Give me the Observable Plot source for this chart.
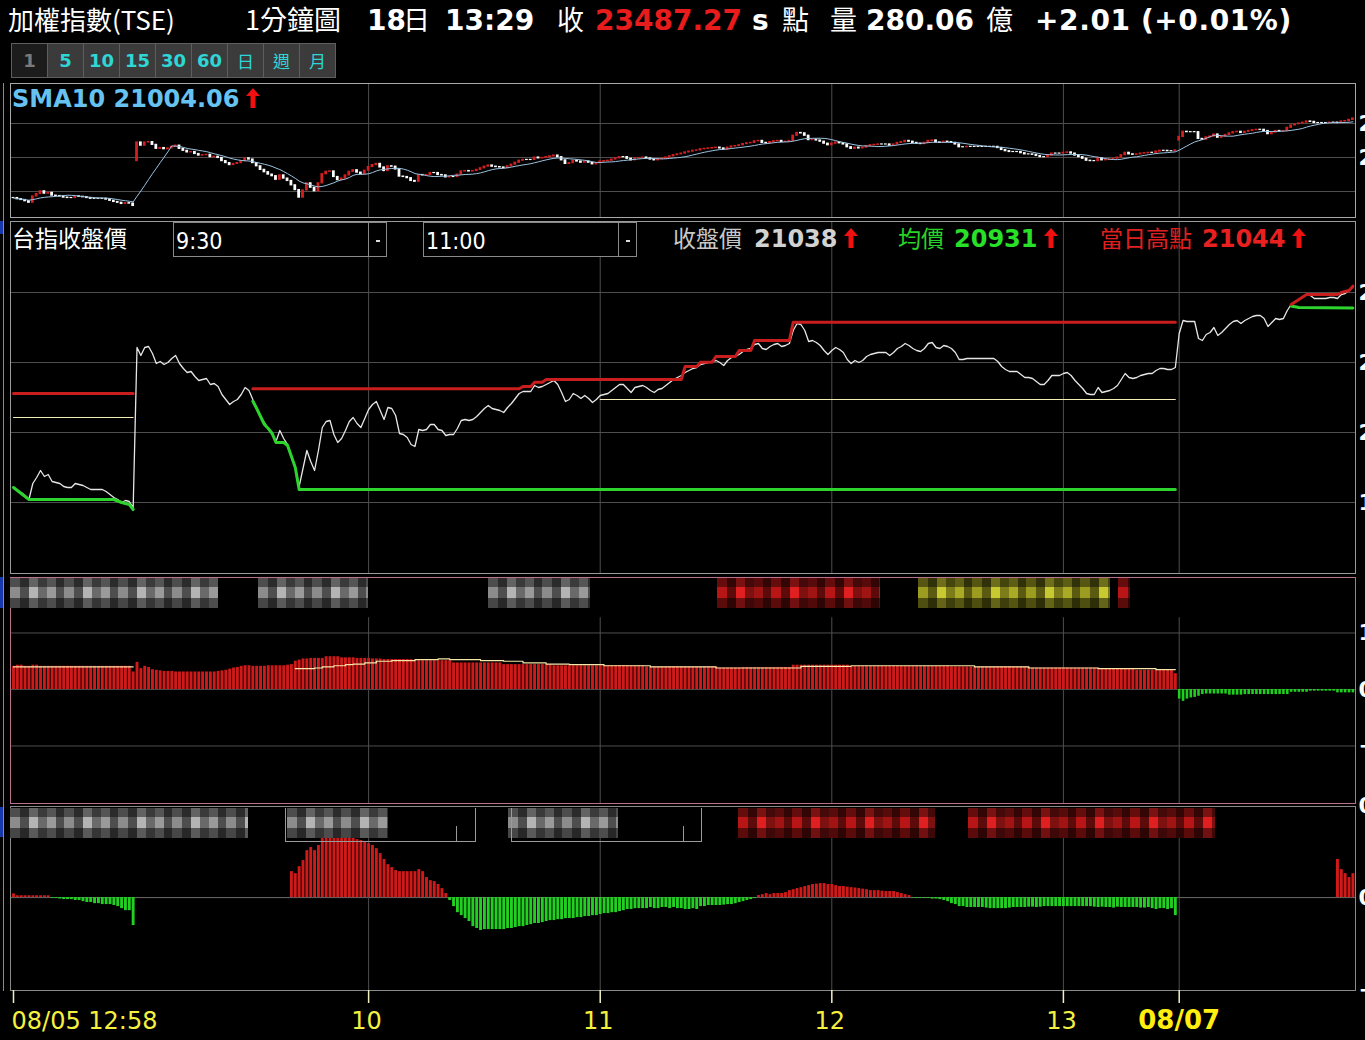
<!DOCTYPE html>
<html><head><meta charset="utf-8">
<script src="https://cdn.jsdelivr.net/npm/d3@7"></script>
<script src="https://cdn.jsdelivr.net/npm/@observablehq/plot@0.6"></script>
<style>
html,body{margin:0;padding:0;background:#000;overflow:hidden}
#root{position:relative;width:1365px;height:1040px;overflow:hidden;background:#000;color:#fff}
.a{position:absolute}
.row{position:absolute;left:0;white-space:nowrap}
.row span{display:inline-block}
.cjk{font-family:"Noto Sans CJK TC","Noto Sans CJK SC",sans-serif;font-weight:normal}
.num{font-family:"DejaVu Sans",sans-serif;font-weight:bold}
.btns{position:absolute;left:11px;top:43px;display:flex}
.btns div{width:35px;height:33px;border:1px solid #5e5e5e;margin-right:-1px;background:#3b3b3b;color:#2fd6d6;font:bold 18px "DejaVu Sans";display:flex;align-items:center;justify-content:center;box-sizing:content-box}
.btns div.cur{background:#1c1c1c;color:#7a7a7a}
.btns div.c{font:17px "Noto Sans CJK TC"}
.mos{position:absolute;height:30px}
.sel{position:absolute;top:222px;width:214px;height:35px;border:1px solid #8a8a8a;background:#000;color:#fff;font:23px "DejaVu Sans Condensed","DejaVu Sans",sans-serif;line-height:37px;padding-left:2px;box-sizing:border-box}
.sel .dv{position:absolute;top:0;bottom:0;width:1px;background:#8a8a8a}
.sel .mk{position:absolute;top:17px;width:4px;height:2px;background:#ddd}
.plot{position:absolute;left:0}
</style></head>
<body><div id="root"></div>
<script>
// ---------- DATA ----------
// per-minute close (index 0 = 08/05 12:58; 32 = 08/06 09:00; 302 = 08/07 09:00)
const close = [
19635,19614,19600,19579,19551,19663,19705,19754,19712,19726,
19677,19670,19663,19642,19635,19635,19663,19656,19649,19635,
19621,19621,19621,19621,19607,19586,19565,19551,19530,19544,
19537,19495,
20615,20559,20615,20622,20573,20503,20517,20496,20510,20538,
20559,20503,20468,20440,20447,20412,20384,20391,20398,20356,
20363,20342,20286,20251,20216,20237,20251,20286,20335,20314,
20251,20195,20132,20090,20048,20020,19957,20034,19978,19936,
19859,19775,19642,19768,19894,19817,19754,19894,20055,20097,
20104,20006,19950,19978,20034,20097,20125,20083,20055,20118,
20181,20216,20237,20174,20111,20195,20188,20139,20013,20006,
19985,19936,19922,20041,20034,20041,20076,20076,20041,20034,
19999,20006,20006,20048,20104,20111,20104,20111,20132,20160,
20188,20209,20188,20181,20174,20160,20195,20223,20258,20293,
20307,20307,20307,20349,20335,20342,20356,20370,20384,20356,
20300,20237,20251,20293,20279,20258,20279,20258,20230,20251,
20279,20286,20293,20314,20335,20356,20356,20328,20300,20335,
20342,20349,20335,20314,20300,20321,20328,20349,20370,20391,
20405,20419,20440,20454,20468,20475,20496,20503,20510,20517,
20524,20510,20489,20524,20545,20552,20566,20587,20601,20608,
20636,20643,20608,20601,20622,20636,20643,20622,20629,20643,
20734,20783,20776,20734,20657,20664,20650,20629,20594,20566,
20594,20615,20601,20580,20531,20503,20524,20510,20524,20552,
20566,20573,20580,20580,20580,20559,20580,20608,20622,20643,
20629,20608,20594,20587,20608,20643,20650,20615,20608,20629,
20622,20608,20580,20531,20531,20538,20538,20538,20538,20538,
20538,20538,20538,20517,20482,20461,20447,20447,20447,20426,
20405,20405,20398,20377,20356,20356,20384,20419,20419,20419,
20433,20440,20419,20384,20356,20328,20293,20286,20286,20335,
20300,20307,20314,20328,20349,20391,20433,20405,20398,20405,
20419,20426,20433,20433,20454,20468,20468,20461,20461,20475,
20713,20804,20797,20797,20797,20678,20664,20706,20720,20755,
20699,20720,20748,20776,20797,20804,20783,20804,20818,20832,
20839,20839,20818,20762,20790,20818,20811,20818,20874,20916,
20937,20951,20965,20986,20979,20958,20958,20958,20958,20965,
20965,20958,20986,20993,21014,21038
];
const sessionStartIdx = [0, 32, 302];
const sessionOpen = [19635, 20287, 20650];

// day-high (red), day-low (green) and reference (pale yellow) lines: [index, price]
const high0805 = [[0,20293],[31,20293]];
const high0806 = [[62,20326],[131,20326],[132,20342],[134,20342],[135,20372],[137,20372],[138,20391],[173,20391],[174,20482],[177,20482],[178,20512],[181,20512],[182,20552],[187,20552],[188,20594],[191,20594],[192,20664],[201,20664],[202,20792],[301,20792]];
const high0807 = [[331,20916],[333,20951],[335,20986],[343,20986],[344,21000],[346,21014],[347,21044]];
const low0805 = [[0,19635],[4,19551],[26,19551],[28,19530],[30,19516],[31,19481]];
const low0806 = [[62,20239],[63,20188],[64,20132],[65,20076],[66,20048],[67,20013],[68,19950],[70,19950],[71,19929],[72,19852],[73,19775],[74,19621],[301,19621]];
const low0807 = [[331,20905],[333,20895],[347,20891]];
const ref0805 = [[0,20125],[31,20125]];
const ref0806 = [[152,20251],[301,20251]];

// lower panel 1: per-minute oscillator
const osc = [
0.41,0.43,0.43,0.41,0.41,0.43,0.43,0.41,0.41,0.41,
0.41,0.41,0.41,0.41,0.41,0.41,0.41,0.41,0.41,0.41,
0.41,0.41,0.41,0.41,0.41,0.41,0.41,0.41,0.41,0.41,
0.41,0.31,
0.48,0.37,0.41,0.39,0.35,0.34,0.33,0.32,0.32,0.32,
0.31,0.31,0.31,0.31,0.31,0.31,0.31,0.31,0.31,0.31,
0.31,0.32,0.33,0.34,0.36,0.38,0.39,0.41,0.42,0.42,
0.41,0.41,0.41,0.41,0.42,0.42,0.42,0.42,0.42,0.43,
0.44,0.50,0.52,0.54,0.54,0.55,0.55,0.55,0.55,0.58,
0.58,0.58,0.58,0.56,0.56,0.56,0.56,0.55,0.55,0.55,
0.55,0.54,0.54,0.54,0.53,0.53,0.53,0.53,0.53,0.53,
0.53,0.53,0.51,0.51,0.51,0.51,0.51,0.51,0.51,0.51,
0.51,0.51,0.47,0.47,0.47,0.47,0.47,0.47,0.47,0.47,
0.47,0.47,0.47,0.47,0.47,0.44,0.44,0.44,0.44,0.44,
0.44,0.44,0.44,0.44,0.44,0.44,0.44,0.44,0.42,0.42,
0.42,0.42,0.42,0.42,0.42,0.42,0.42,0.42,0.42,0.42,
0.42,0.42,0.42,0.42,0.42,0.42,0.42,0.42,0.42,0.42,
0.42,0.42,0.40,0.40,0.40,0.40,0.40,0.40,0.40,0.40,
0.40,0.40,0.40,0.40,0.40,0.40,0.40,0.40,0.40,0.40,
0.40,0.38,0.38,0.38,0.38,0.38,0.38,0.39,0.39,0.39,
0.39,0.39,0.39,0.39,0.39,0.39,0.39,0.39,0.39,0.39,
0.43,0.43,0.43,0.43,0.43,0.43,0.43,0.43,0.43,0.43,
0.43,0.43,0.43,0.43,0.43,0.41,0.41,0.41,0.41,0.41,
0.41,0.41,0.41,0.41,0.41,0.41,0.41,0.41,0.41,0.41,
0.41,0.41,0.41,0.41,0.41,0.41,0.41,0.41,0.41,0.41,
0.41,0.40,0.40,0.40,0.40,0.40,0.40,0.40,0.40,0.40,
0.40,0.40,0.40,0.40,0.40,0.40,0.40,0.40,0.40,0.40,
0.40,0.40,0.38,0.38,0.38,0.38,0.38,0.38,0.38,0.38,
0.38,0.38,0.38,0.38,0.38,0.38,0.38,0.38,0.38,0.38,
0.36,0.36,0.36,0.36,0.36,0.36,0.36,0.36,0.36,0.34,
0.34,0.34,0.34,0.34,0.34,0.34,0.34,0.34,0.34,0.28,
-0.17,-0.21,-0.17,-0.15,-0.14,-0.12,-0.09,-0.08,-0.08,-0.08,
-0.08,-0.08,-0.08,-0.10,-0.10,-0.10,-0.10,-0.09,-0.09,-0.09,
-0.09,-0.09,-0.09,-0.09,-0.09,-0.09,-0.09,-0.09,-0.09,-0.05,
-0.05,-0.05,-0.05,-0.05,-0.03,-0.03,-0.03,-0.03,-0.03,-0.03,
-0.03,-0.06,-0.06,-0.06,-0.06,-0.06
];
const oscRef0805 = [[0,0.40],[31,0.40]];
const oscRef0806 = [[73,0.37],[78,0.38],[80,0.40],[83,0.42],[86,0.44],[88,0.45],[91,0.47],[94,0.50],[98,0.51],[104,0.53],[110,0.54],[113,0.53],[121,0.51],[127,0.50],[132,0.47],[138,0.45],[144,0.44],[153,0.42],[165,0.40],[182,0.38],[204,0.41],[217,0.42],[249,0.40],[263,0.38],[281,0.37],[296,0.35],[301,0.35]];

// lower panel 2: per-minute histogram (null = no value)
const _ = null;
const hist = [
0.02,0.01,0.01,0.01,0.01,0.01,0.01,0.01,0.01,0.01,
-0.005,-0.005,-0.008,-0.011,-0.011,-0.011,-0.016,-0.016,-0.022,-0.027,
-0.027,-0.033,-0.033,-0.038,-0.038,-0.038,-0.043,-0.049,-0.06,-0.071,
-0.071,-0.152,
_,_,_,_,_,_,_,_,_,_, _,_,_,_,_,_,_,_,_,_, _,_,_,_,_,_,_,_,_,_, _,_,_,_,_,_,_,_,_,_,
0.141,0.13,0.168,0.201,0.255,0.272,0.255,0.283,0.321,0.33,
0.33,0.33,0.33,0.33,0.33,0.33,0.321,0.315,0.31,0.304,
0.293,0.283,0.266,0.239,0.207,0.179,0.163,0.147,0.141,0.141,
0.141,0.141,0.141,0.152,0.141,0.109,0.092,0.087,0.071,0.049,
0.022,-0.016,-0.049,-0.082,-0.098,-0.114,-0.13,-0.158,-0.168,-0.179,
-0.174,-0.174,-0.174,-0.174,-0.174,-0.174,-0.168,-0.168,-0.163,-0.158,
-0.158,-0.152,-0.147,-0.141,-0.141,-0.136,-0.13,-0.125,-0.125,-0.12,
-0.12,-0.114,-0.114,-0.114,-0.109,-0.109,-0.103,-0.103,-0.098,-0.098,
-0.092,-0.087,-0.087,-0.082,-0.082,-0.076,-0.071,-0.065,-0.065,-0.06,
-0.06,-0.06,-0.06,-0.054,-0.06,-0.06,-0.054,-0.054,-0.06,-0.054,
-0.06,-0.06,-0.065,-0.065,-0.06,-0.065,-0.049,-0.049,-0.043,-0.043,
-0.043,-0.043,-0.041,-0.038,-0.038,-0.033,-0.027,-0.022,-0.016,-0.011,
-0.005,0.011,0.016,0.022,0.016,0.022,0.022,0.022,0.027,0.038,
0.043,0.049,0.054,0.06,0.065,0.071,0.073,0.076,0.076,0.071,
0.071,0.065,0.06,0.06,0.057,0.054,0.052,0.049,0.046,0.043,
0.038,0.038,0.038,0.035,0.033,0.033,0.033,0.027,0.022,0.016,
0.011,-0.003,-0.005,-0.005,-0.005,-0.005,-0.008,-0.008,-0.011,-0.016,
-0.022,-0.033,-0.038,-0.049,-0.049,-0.054,-0.054,-0.054,-0.054,-0.054,
-0.057,-0.06,-0.06,-0.06,-0.06,-0.06,-0.057,-0.054,-0.054,-0.054,
-0.054,-0.052,-0.052,-0.054,-0.052,-0.049,-0.049,-0.049,-0.049,-0.049,
-0.049,-0.049,-0.049,-0.049,-0.049,-0.049,-0.049,-0.049,-0.052,-0.054,
-0.052,-0.054,-0.054,-0.057,-0.052,-0.054,-0.054,-0.054,-0.054,-0.054,
-0.057,-0.057,-0.054,-0.06,-0.065,-0.06,-0.06,-0.065,-0.06,-0.098,
_,_,_,_,_,_,_,_,_,_, _,_,_,_,_,_,_,_,_,_, _,_,_,_,_,_,_,_,_,_, _,_,_,_,_,_,_,_,_,_, _,
0.207,0.152,0.13,0.109,0.13
];

// axes
const xTickIdx = [0, 92, 152, 212, 272, 302];
const xTickLabels = ["08/05 12:58", "10", "11", "12", "13", "08/07"];
const xGridIdx = [92, 152, 212, 272, 302];
const topGridTicks = [20950, 20350, 19750];
const topLabelTicks = [20950, 20350];
const priceTicks = [21000, 20510, 20020, 19530];
const oscTicks = [1, 0, -1];
const histTicks = [0.5, 0, -0.5];

// ---------- BUILD ----------
const root = document.getElementById("root");
const rows = close.map((c, i) => {
  const s = sessionStartIdx.indexOf(i);
  return {i, c, o: s >= 0 ? sessionOpen[s] : close[i - 1], osc: osc[i], hist: hist[i]};
});
const N = close.length;
const X = {domain: [0, N - 1], range: [13, 1352.4]};
const style = {background: "transparent", maxWidth: "none", overflow: "visible", color: "#fff", fontFamily: "DejaVu Sans, sans-serif", fontSize: "22px"};
const grid = "#4e4e4e";
const px = d => d[0], py = d => d[1];
function place(svg, top) { const d = document.createElement("div"); d.className = "plot"; d.style.top = top + "px"; d.appendChild(svg); root.appendChild(d); }
const yAxis = (ticks, fmt) => Plot.axisY(ticks, {anchor: "right", label: null, tickSize: 0, tickPadding: 3, fontSize: 22, fontWeight: "bold", fill: "#fff", tickFormat: fmt});

// Panel A: candles + SMA10
place(Plot.plot({
  width: 1420, height: 134, marginLeft: 10, marginRight: 65, marginTop: 0, marginBottom: 0, style,
  x: {...X, axis: null}, y: {domain: [19291, 21656], axis: null, label: null},
  marks: [
    Plot.gridY(topGridTicks, {stroke: grid, strokeOpacity: 1}),
    Plot.ruleX(xGridIdx, {stroke: grid}),
    Plot.rect(rows, {filter: d => d.c > d.o, x1: d => d.i - 0.36, x2: d => d.i + 0.36, y1: "o", y2: "c", fill: "#d22020", insetTop: -0.6, insetBottom: -0.6}),
    Plot.rect(rows, {filter: d => d.c <= d.o, x1: d => d.i - 0.36, x2: d => d.i + 0.36, y1: "o", y2: "c", fill: "#ffffff", insetTop: -0.6, insetBottom: -0.6}),
    Plot.lineY(rows, Plot.windowY({k: 10, anchor: "end"}, {x: "i", y: "c", stroke: "#9cc4e2", strokeWidth: 1})),
    Plot.frame({stroke: "#a8a8a8"}),
    yAxis(topLabelTicks, d3.format("d"))
  ]
}), 83);

// Panel B: close price with high / low / reference lines
place(Plot.plot({
  width: 1420, height: 352, marginLeft: 10, marginRight: 65, marginTop: 0, marginBottom: 0, style,
  x: {...X, axis: null}, y: {domain: [19033, 21497], axis: null, label: null},
  marks: [
    Plot.gridY(priceTicks, {stroke: grid, strokeOpacity: 1}),
    Plot.ruleX(xGridIdx, {stroke: grid}),
    Plot.line(rows, {x: "i", y: "c", stroke: "#e6e6e6", strokeWidth: 1.3}),
    Plot.line(ref0805, {x: px, y: py, stroke: "#f2eeb4", strokeWidth: 1}),
    Plot.line(ref0806, {x: px, y: py, stroke: "#f2eeb4", strokeWidth: 1}),
    Plot.line(low0805, {x: px, y: py, stroke: "#2ed42e", strokeWidth: 3}),
    Plot.line(low0806, {x: px, y: py, stroke: "#2ed42e", strokeWidth: 3}),
    Plot.line(low0807, {x: px, y: py, stroke: "#2ed42e", strokeWidth: 3}),
    Plot.line(high0805, {x: px, y: py, stroke: "#c81e1e", strokeWidth: 3}),
    Plot.line(high0806, {x: px, y: py, stroke: "#c81e1e", strokeWidth: 3}),
    Plot.line(high0807, {x: px, y: py, stroke: "#c81e1e", strokeWidth: 3}),
    Plot.frame({stroke: "#9a9a9a"}),
    yAxis(priceTicks, d3.format("d"))
  ]
}), 221);

// Panel C: oscillator bars
place(Plot.plot({
  width: 1420, height: 226, marginLeft: 10, marginRight: 65, marginTop: 0, marginBottom: 0, style,
  x: {...X, axis: null}, y: {domain: [-2.018, 1.982], axis: null, label: null},
  marks: [
    Plot.gridY(oscTicks, {stroke: grid, strokeOpacity: 1}),
    Plot.ruleX(xGridIdx, {y1: 1.27, y2: -2.018, stroke: grid}),
    Plot.ruleX(rows, {filter: d => d.osc > 0, x: "i", y1: 0, y2: "osc", stroke: "#d01a1a", strokeWidth: 2.9}),
    Plot.ruleX(rows, {filter: d => d.osc < 0, x: "i", y1: 0, y2: "osc", stroke: "#1fcf1f", strokeWidth: 2.6}),
    Plot.line(oscRef0805, {x: px, y: py, stroke: "#f6e6a8", strokeWidth: 1.2}),
    Plot.line(oscRef0806, {x: px, y: py, stroke: "#f6e6a8", strokeWidth: 1.2, curve: "step-after"}),
    Plot.frame({stroke: "#b9708d"}),
    yAxis(oscTicks, d3.format(".2f"))
  ]
}), 577);

// Panel D: histogram + time axis
const xt = xTickIdx.map((i, j) => ({i, label: xTickLabels[j]}));
place(Plot.plot({
  width: 1420, height: 245, marginLeft: 10, marginRight: 65, marginTop: 11, marginBottom: 50, style,
  x: {...X, label: null}, y: {domain: [-0.505, 0.495], axis: null, label: null},
  marks: [
    Plot.ruleY([0], {stroke: "#6a6a6a"}),
    Plot.ruleX(xGridIdx, {y1: 0.321, y2: -0.505, stroke: grid}),
    Plot.ruleX(rows, {filter: d => d.hist != null && d.hist > 0, x: "i", y1: 0, y2: "hist", stroke: "#d01a1a", strokeWidth: 2.9}),
    Plot.ruleX(rows, {filter: d => d.hist != null && d.hist < 0, x: "i", y1: 0, y2: "hist", stroke: "#22d022", strokeWidth: 2.9}),
    Plot.frame({stroke: "#8a8a8a"}),
    yAxis(histTicks, d3.format(".2f")),
    Plot.axisX(xTickIdx, {anchor: "bottom", label: null, tickSize: 13, tickFormat: () => "", stroke: "#f2eec0", strokeWidth: 1.5}),
    Plot.text(xt, {filter: d => d.i === xTickIdx[0], x: "i", text: "label", frameAnchor: "bottom", dy: 38, dx: -2, textAnchor: "start", fill: "#f4f040", fontSize: 24}),
    Plot.text(xt, {filter: d => d.i !== xTickIdx[0] && d.i !== xTickIdx[5], x: "i", text: "label", frameAnchor: "bottom", dy: 38, dx: -2, fill: "#f4f040", fontSize: 24}),
    Plot.text(xt, {filter: d => d.i === xTickIdx[5], x: "i", text: "label", frameAnchor: "bottom", dy: 38, fill: "#ffee10", fontSize: 26, fontWeight: "bold"})
  ]
}), 795);

// ---------- HTML decorations ----------
function el(cls, css, html) { const d = document.createElement("div"); d.className = cls; d.style.cssText = css; if (html != null) d.innerHTML = html; root.appendChild(d); return d; }
const arrow = c => `<svg width="14" height="20" style="vertical-align:-1px"><path d="M7 0 L14 8 H9.5 V20 H4.5 V8 H0 Z" fill="${c}"/></svg>`;
function row(top, font, items) {
  const r = el("row", `top:${top}px;font:${font};line-height:40px`);
  items.forEach((it, k) => {
    const s = document.createElement("span");
    const next = items[k + 1];
    s.className = it[2] || "";
    s.style.cssText = (next ? `width:${next[0] - it[0]}px;` : "") + (k === 0 ? `margin-left:${it[0]}px;` : "") + (it[3] || "");
    s.innerHTML = it[1];
    r.appendChild(s);
  });
}
// title row
row(-1, "bold 28px 'DejaVu Sans'", [
  [8, "加權指數(TSE)", "cjk", "font-size:26px"],
  [245, "1分鐘圖", "cjk", "font-size:27px"],
  [367, "18", "num"], [403, "日", "cjk", "font-size:27px"],
  [445, "13:29", "num"], [557, "收", "cjk", "font-size:27px"],
  [595, "23487.27", "num", "color:#e81c1c"], [752, "s", "num"],
  [782, "點", "cjk", "font-size:27px"], [830, "量", "cjk", "font-size:27px"],
  [866, "280.06", "num"], [986, "億", "cjk", "font-size:27px"],
  [1035, "+2.01 (+0.01%)", "num", "letter-spacing:0.6px"]
]);
// period buttons
const btns = el("btns", "");
["1","5","10","15","30","60","日","週","月"].forEach((t, k) => {
  const b = document.createElement("div"); b.textContent = t;
  if (k === 0) b.className = "cur"; else if (k > 5) b.className = "c";
  btns.appendChild(b);
});
// SMA label
row(79, "bold 24px 'DejaVu Sans'", [[12, "SMA10 21004.06", "num", "color:#66c2f0"], [246, arrow("#f01010"), ""]]);
// panel B header
row(217, "bold 24px 'DejaVu Sans'", [
  [12, "台指收盤價", "cjk", "font-size:23px"],
  [673, "收盤價", "cjk", "font-size:23px;color:#c8c8c8"], [754, "21038", "num", "color:#d2d2d2"], [844, arrow("#f01010"), ""],
  [898, "均價", "cjk", "font-size:23px;color:#28d428"], [954, "20931", "num", "color:#28e028"], [1044, arrow("#f01010"), ""],
  [1100, "當日高點", "cjk", "font-size:23px;color:#e02020"], [1202, "21044", "num", "color:#e82020"], [1292, arrow("#f01010"), ""]
]);
[[173, "9:30"], [423, "11:00"]].forEach(([l, t]) => {
  const s = el("sel", `left:${l}px`, t);
  const dv = document.createElement("div"); dv.className = "dv"; dv.style.left = "194px"; s.appendChild(dv);
  const mk = document.createElement("div"); mk.className = "mk"; mk.style.left = "202px"; s.appendChild(mk);
});
// left edge lines and markers
el("a", "left:3px;top:83px;width:1px;height:908px;background:#8a8a8a");
[[221, 13], [577, 31], [807, 30]].forEach(([t, h]) => el("a", `left:0;top:${t}px;width:3px;height:${h}px;background:#1838b0`));
// pixelated (censored) legend blocks
const pal = {
  g: ["#8c8c8c", "#4e4e4e", "#b4b4b4", "#6a6a6a", "#9a9a9a"],
  r: ["#b81616", "#5c0a0a", "#e02020", "#7e1010", "#a01414"],
  y: ["#9c9c20", "#5a5a10", "#c8c830", "#7c7c18", "#aaaa24"]
};
function mosaic(l, t, w, k) {
  const p = pal[k];
  el("mos", `left:${l}px;top:${t}px;width:${w}px;background-image:linear-gradient(to bottom, rgba(0,0,0,.45) 0 30%, rgba(0,0,0,0) 30% 68%, rgba(0,0,0,.5) 68% 100%),repeating-linear-gradient(90deg, ${p[0]} 0 10px, ${p[1]} 10px 19px, ${p[2]} 19px 28px, ${p[3]} 28px 37px, ${p[4]} 37px 46px, ${p[1]} 46px 54px)`);
}
[[10,578,208,"g"],[258,578,110,"g"],[488,578,102,"g"],[717,578,163,"r"],[918,578,192,"y"],[1118,578,12,"r"],
 [10,808,238,"g"],[287,808,101,"g"],[508,808,110,"g"],[738,808,197,"r"],[968,808,247,"r"]].forEach(m => mosaic(...m));
[[285, 191, 171], [511, 191, 172]].forEach(([l, w, v]) => {
  el("a", `left:${l}px;top:808px;width:${w}px;height:34px;border-bottom:1px solid #9a9a9a;border-right:1px solid #9a9a9a;border-left:1px solid #9a9a9a;box-sizing:border-box`);
  el("a", `left:${l + v}px;top:826px;width:1px;height:16px;background:#9a9a9a`);
});
</script>
</body></html>
